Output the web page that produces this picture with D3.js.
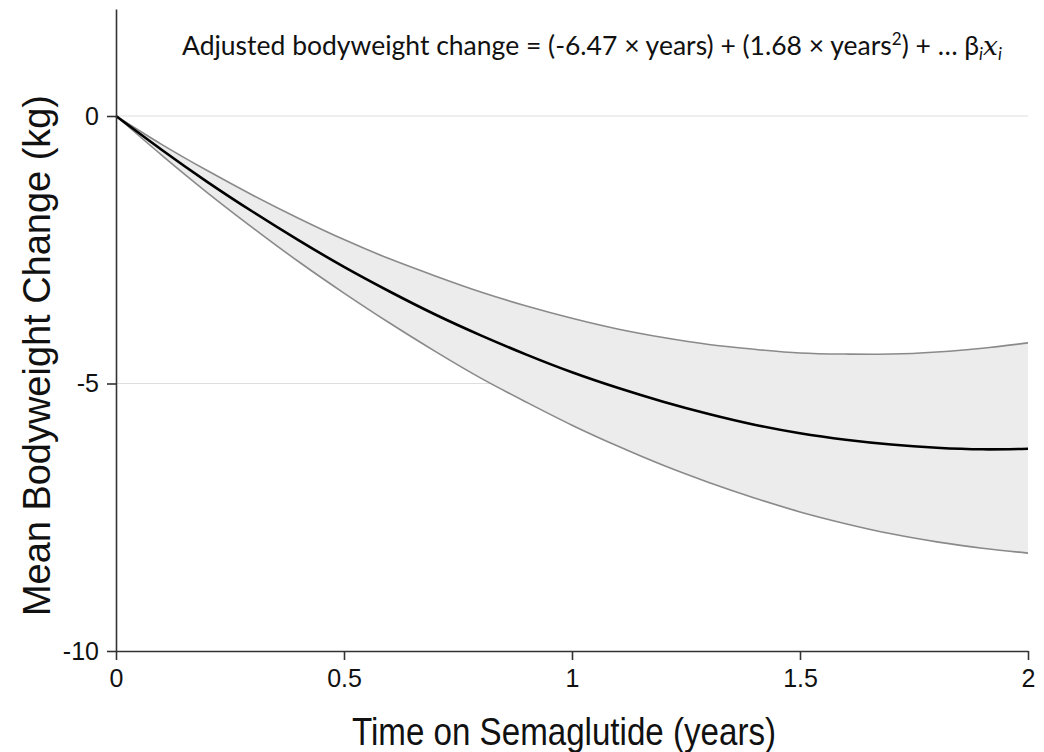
<!DOCTYPE html>
<html lang="en">
<head>
    <meta charset="UTF-8">
    <script src="https://d3js.org/d3.v7.min.js"></script>
    <title>Bodyweight change</title>
    <style>
        body { margin: 0; background: white; }
        text { font-family: "Liberation Sans", Arial, sans-serif; fill: #111; }
    </style>
</head>
<body>
    <div id="svg"></div>
    <script>
        /*------------------- data -----------------------------------------*/
        const years = [0, 0.1, 0.2, 0.3, 0.4, 0.5, 0.6, 0.7, 0.8, 0.9, 1.0,
                       1.1, 1.2, 1.3, 1.4, 1.5, 1.6, 1.7, 1.8, 1.9, 2.0];
        // fitted mean change (kg)
        const meanChange = [0, -0.63, -1.23, -1.79, -2.32, -2.82, -3.28, -3.71, -4.10, -4.46, -4.79,
                            -5.08, -5.34, -5.57, -5.77, -5.93, -6.05, -6.14, -6.20, -6.23, -6.22];
        // upper confidence limit
        const upperCI = [0, -0.53, -1.02, -1.48, -1.91, -2.31, -2.67, -2.99, -3.29, -3.55, -3.78,
                         -3.98, -4.14, -4.27, -4.36, -4.43, -4.45, -4.45, -4.41, -4.34, -4.24];
        // lower confidence limit
        const lowerCI = [0, -0.73, -1.43, -2.09, -2.72, -3.31, -3.87, -4.40, -4.90, -5.35, -5.78,
                         -6.17, -6.53, -6.85, -7.14, -7.40, -7.62, -7.81, -7.96, -8.08, -8.17];
        const xTicks = [0, 0.5, 1, 1.5, 2];
        const yTicks = [0, -5, -10];

        /*------------------- dims --------------------*/
        const width = 1044, height = 752;
        const mLeft = 116, mRight = 1028, mTop = 9, mBottom = 651;

        const svg = d3.select("#svg").append("svg")
            .attr("width", width)
            .attr("height", height);

        const x = d3.scaleLinear().domain([0, 2]).range([mLeft, mRight]);
        const y = d3.scaleLinear().domain([-10, 2]).range([mBottom, mTop]);

        const rows = years.map((t, i) => ({ t: t, m: meanChange[i], lo: lowerCI[i], hi: upperCI[i] }));

        // gridlines
        svg.append("g").selectAll("line")
            .data(yTicks.filter(d => d !== -10))
            .enter().append("line")
            .attr("x1", mLeft).attr("x2", mRight)
            .attr("y1", d => y(d)).attr("y2", d => y(d))
            .attr("stroke", "#dedede").attr("stroke-width", 1.2);

        // confidence band
        const area = d3.area()
            .x(d => x(d.t))
            .y0(d => y(d.lo))
            .y1(d => y(d.hi))
            .curve(d3.curveNatural);
        svg.append("path")
            .datum(rows)
            .attr("d", area)
            .attr("fill", "#ebebeb")
            .attr("fill-opacity", 0.95);

        const lineHi = d3.line().x(d => x(d.t)).y(d => y(d.hi)).curve(d3.curveNatural);
        const lineLo = d3.line().x(d => x(d.t)).y(d => y(d.lo)).curve(d3.curveNatural);
        const lineM = d3.line().x(d => x(d.t)).y(d => y(d.m)).curve(d3.curveNatural);

        [lineHi, lineLo].forEach(gen => {
            svg.append("path")
                .datum(rows)
                .attr("d", gen)
                .attr("fill", "none")
                .attr("stroke", "#8a8a8a")
                .attr("stroke-width", 1.6);
        });

        svg.append("path")
            .datum(rows)
            .attr("d", lineM)
            .attr("fill", "none")
            .attr("stroke", "#000")
            .attr("stroke-width", 2.6);

        // axes
        const xAxis = svg.append("g")
            .attr("transform", `translate(0,${mBottom})`)
            .call(d3.axisBottom(x).tickValues(xTicks).tickSize(9).tickSizeOuter(0).tickPadding(9)
                .tickFormat(d3.format("")));
        const yAxis = svg.append("g")
            .attr("transform", `translate(${mLeft},0)`)
            .call(d3.axisLeft(y).tickValues(yTicks).tickSize(9).tickSizeOuter(0).tickPadding(8)
                .tickFormat(d => String(d)));

        [xAxis, yAxis].forEach(g => {
            g.select(".domain").attr("stroke", "#333").attr("stroke-width", 1.6);
            g.selectAll(".tick line").attr("stroke", "#333").attr("stroke-width", 1.6);
            g.selectAll(".tick text")
                .style("font-family", '"Liberation Sans", Arial, sans-serif')
                .style("font-size", "25px")
                .attr("fill", "#111");
        });

        // axis titles
        svg.append("text")
            .attr("x", 352)
            .attr("y", 745)
            .attr("textLength", 424)
            .attr("lengthAdjust", "spacingAndGlyphs")
            .style("font-size", "39px")
            .text("Time on Semaglutide (years)");

        svg.append("text")
            .attr("transform", `translate(50,616) rotate(-90)`)
            .attr("textLength", 521)
            .attr("lengthAdjust", "spacingAndGlyphs")
            .style("font-size", "39px")
            .text("Mean Bodyweight Change (kg)");

        // equation annotation
        const eq = svg.append("text")
            .attr("x", 182)
            .attr("y", 55)
            .style("font-family", "Lato, 'Open Sans', sans-serif")
            .style("font-size", "26.5px");
        eq.append("tspan").text("Adjusted bodyweight change = (-6.47 × years) + (1.68 × years");
        eq.append("tspan").attr("dy", -10).style("font-size", "17px").text("2");
        eq.append("tspan").attr("dy", 10).text(") + … β");
        eq.append("tspan").attr("dy", 5).style("font-size", "17px").style("font-style", "italic").text("i");
        eq.append("tspan").attr("dy", -5).style("font-style", "italic").style("font-family", "'DejaVu Serif', serif").text("x");
        eq.append("tspan").attr("dy", 5).style("font-size", "17px").style("font-style", "italic").text("i");
    </script>
</body>
</html>
